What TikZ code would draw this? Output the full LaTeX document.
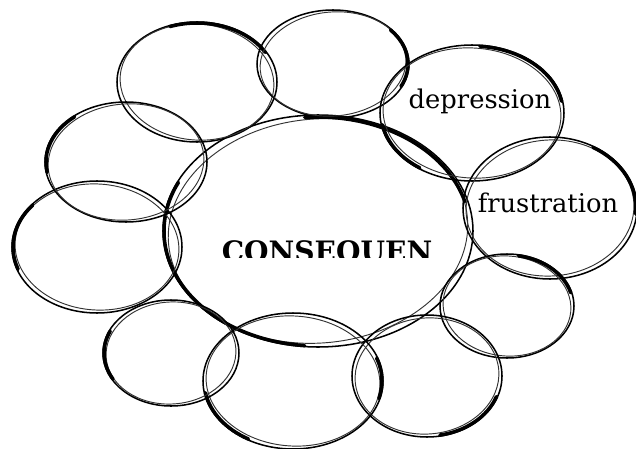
\documentclass[tikz,border=0pt]{standalone}
\usepackage{fontspec}
\setmainfont{DejaVu Serif}
\begin{document}
\begin{tikzpicture}[x=0.03cm,y=-0.03cm,
  ring/.style={line width=1.3pt},
  ringthin/.style={line width=.8pt,black!80},
  ringthick/.style={line width=3pt,line cap=round},
  every node/.style={inner sep=0pt,outer sep=0pt}]
  \useasboundingbox (0,0) rectangle (636,449);
  % centres of the bubbles
  \coordinate (C) at (318,231);
  \coordinate (E1) at (197,82);
  \coordinate (E2) at (333,64);
  \coordinate (E3) at (472,113);
  \coordinate (E4) at (550,208);
  \coordinate (E5) at (507,306);
  \coordinate (E6) at (427,376);
  \coordinate (E7) at (293,381);
  \coordinate (E8) at (171,353);
  \coordinate (E9) at (97,247);
  \coordinate (E10) at (126,162);
  % middle bubble
  \draw[ring] (C) ellipse (155 and 116);
  \draw[ringthin,rotate around={5:(C)}] (C) ellipse (150 and 112);
  \draw[ringthick] (C) ++(95:154 and 115) arc[start angle=95,end angle=205,x radius=154,y radius=115];
  \draw[ringthick] (C) ++(265:152 and 114) arc[start angle=265,end angle=345,x radius=152,y radius=114];
  % outer bubbles
  \draw[ring] (E1) ellipse (80 and 60);
  \draw[ringthin,rotate around={-5:(E1)}] (E1) ellipse (77 and 58);
  \draw[ringthick] (E1) ++(250:79 and 59) arc[start angle=250,end angle=330,x radius=79,y radius=59];
  \draw[ring] (E2) ellipse (76 and 54);
  \draw[ringthin,rotate around={5:(E2)}] (E2) ellipse (73 and 52);
  \draw[ringthick] (E2) ++(-40:75 and 53) arc[start angle=-40,end angle=25,x radius=75,y radius=53];
  \draw[ring] (E3) ellipse (92 and 68);
  \draw[ringthin,rotate around={-4:(E3)}] (E3) ellipse (89 and 65);
  \draw[ringthick] (E3) ++(275:91 and 67) arc[start angle=275,end angle=350,x radius=91,y radius=67];
  \draw[ringthick] (E3) ++(125:91 and 67) arc[start angle=125,end angle=170,x radius=91,y radius=67];
  \draw[ring] (E4) ellipse (87 and 71);
  \draw[ringthin,rotate around={4:(E4)}] (E4) ellipse (84 and 68);
  \draw[ringthick] (E4) ++(300:86 and 70) arc[start angle=300,end angle=365,x radius=86,y radius=70];
  \draw[ring] (E5) ellipse (67 and 52);
  \draw[ringthin,rotate around={-5:(E5)}] (E5) ellipse (64 and 50);
  \draw[ringthick] (E5) ++(280:66 and 51) arc[start angle=280,end angle=345,x radius=66,y radius=51];
  \draw[ring] (E6) ellipse (75 and 61);
  \draw[ringthin,rotate around={5:(E6)}] (E6) ellipse (72 and 58);
  \draw[ringthick] (E6) ++(20:74 and 60) arc[start angle=20,end angle=80,x radius=74,y radius=60];
  \draw[ring] (E7) ellipse (90 and 68);
  \draw[ringthin,rotate around={-4:(E7)}] (E7) ellipse (87 and 65);
  \draw[ringthick] (E7) ++(120:89 and 67) arc[start angle=120,end angle=170,x radius=89,y radius=67];
  \draw[ringthick] (E7) ++(-20:89 and 67) arc[start angle=-20,end angle=15,x radius=89,y radius=67];
  \draw[ring] (E8) ellipse (68 and 53);
  \draw[ringthin,rotate around={4:(E8)}] (E8) ellipse (65 and 51);
  \draw[ringthick] (E8) ++(150:67 and 52) arc[start angle=150,end angle=205,x radius=67,y radius=52];
  \draw[ring] (E9) ellipse (85 and 66);
  \draw[ringthin,rotate around={-4:(E9)}] (E9) ellipse (82 and 63);
  \draw[ringthick] (E9) ++(160:84 and 65) arc[start angle=160,end angle=220,x radius=84,y radius=65];
  \draw[ring] (E10) ellipse (81 and 60);
  \draw[ringthin,rotate around={5:(E10)}] (E10) ellipse (78 and 58);
  \draw[ringthick] (E10) ++(170:80 and 59) arc[start angle=170,end angle=230,x radius=80,y radius=59];
  % labels
  \begin{scope}
    \clip (0,0) rectangle (636,257);
    \node[anchor=base,font=\fontsize{24}{24}\selectfont\bfseries] (title) at (327,261) {CONSEQUEN};
  \end{scope}
  \node[anchor=base,font=\fontsize{22}{22}\selectfont] (dep) at (480,108) {depression};
  \node[anchor=base,font=\fontsize{22}{22}\selectfont] (fru) at (548,212) {frustration};
\end{tikzpicture}
\end{document}
